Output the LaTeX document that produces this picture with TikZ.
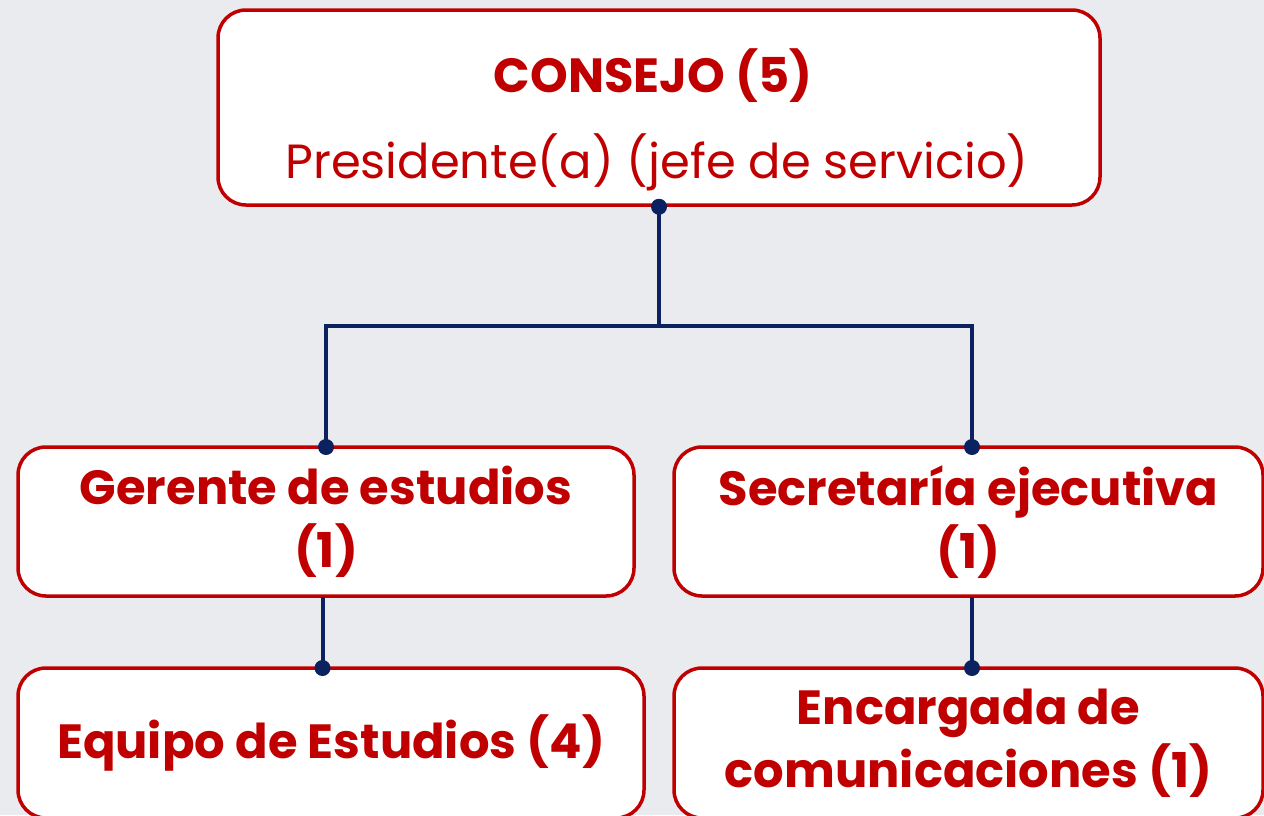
\documentclass[tikz,border=0pt]{standalone}
\usepackage{fontspec}
\setmainfont{Poppins}
\definecolor{boxred}{HTML}{C00000}
\definecolor{navy}{HTML}{0B2160}
\definecolor{bg}{HTML}{EAEBEF}
\begin{document}
\begin{tikzpicture}[x=1pt,y=-1pt,
  box/.style={draw=boxred, line width=3.5pt, fill=white, rounded corners=28pt,
    inner sep=0pt, text=boxred, align=center,
    font=\bfseries\fontsize{48}{63}\selectfont},
  label/.style={inner sep=0pt, text=boxred, anchor=base, font=\fontsize{48}{58}\selectfont},
  link/.style={draw=navy, line width=4pt},
  dot/.style={circle, fill=navy, inner sep=0pt, minimum size=16pt}]
\useasboundingbox (0,0) rectangle (1264,815);
\clip (0,0) rectangle (1264,815);
\fill[bg] (0,0) rectangle (1264,815);
\node[box, minimum width=882pt, minimum height=195pt] (consejo) at (659,107.5) {};
\node[label, font=\bfseries\fontsize{48}{58}\selectfont] (consejoT) at (653,92) {CONSEJO (5)};
\node[label] (presT) at (657,178) {Presidente(a) (jefe de servicio)};
\node[box, minimum width=616pt, minimum height=149pt, text depth=9pt] (gerente) at (326,521.5)
  {Gerente de estudios\\(1)};
\node[box, minimum width=589pt, minimum height=149pt, text depth=9pt] (secretaria) at (968.5,521.5)
  {Secretaría ejecutiva\\(1)};
\node[box, minimum width=626pt, minimum height=150pt] (equipo) at (331,743)
  {Equipo de Estudios (4)};
\node[box, minimum width=589pt, minimum height=150pt] (encargada) at (968.5,743)
  {Encargada de\\comunicaciones (1)};
\coordinate (split) at (659,326);
\coordinate (gTop) at (326,447);
\coordinate (sTop) at (972,447);
\coordinate (gBot) at (322.5,597);
\coordinate (eTop) at (322.5,668);
\coordinate (sBot) at (972,597);
\coordinate (cTop) at (972,668);
\draw[link] (consejo.south) -- (split);
\draw[link] (split) -| (gTop);
\draw[link] (split) -| (sTop);
\draw[link] (gBot) -- (eTop);
\draw[link] (sBot) -- (cTop);
\node[dot] at (consejo.south) {};
\node[dot] at (gTop) {};
\node[dot] at (sTop) {};
\node[dot] at (eTop) {};
\node[dot] at (cTop) {};
\end{tikzpicture}
\end{document}
